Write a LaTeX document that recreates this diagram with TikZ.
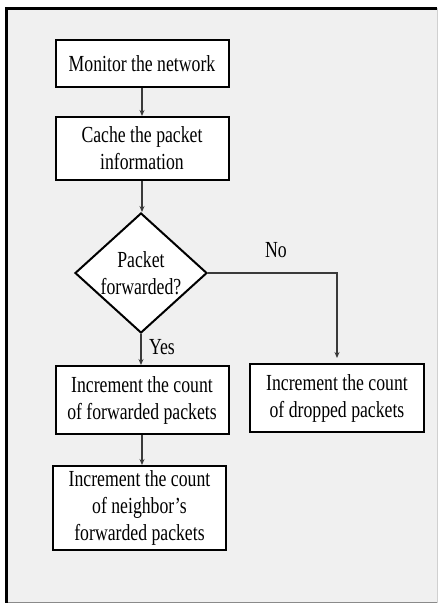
\documentclass[tikz,border=0pt]{standalone}
\usepackage{fontspec}
\setmainfont{Liberation Serif}[FakeStretch=0.77]
\usetikzlibrary{arrows.meta,positioning,shapes.geometric}
\definecolor{FlowPanel}{HTML}{F0F0F0}
\definecolor{FlowEdge}{HTML}{8A8A8A}
\definecolor{FlowFaint}{HTML}{D0D0D0}
\definecolor{FlowLine}{HTML}{3A3A3A}

\begin{document}
\begin{tikzpicture}[
    x=1pt, y=-1pt,
    stepbox/.style={
      draw=black,
      fill=white,
      line width=2pt,
      minimum width=173pt,
      minimum height=#1,
      inner sep=0pt,
      align=center,
      font=\fontsize{23}{27}\selectfont
    },
    decide/.style={
      draw=black,
      fill=white,
      line width=2pt,
      diamond,
      aspect=1.1,
      inner sep=0pt,
      minimum width=132pt,
      minimum height=120pt,
      align=center,
      font=\fontsize{23}{27}\selectfont
    },
    flow/.style={
      -{Stealth[length=6pt,width=5pt]},
      line width=1.1pt,
      color=FlowLine
    },
    tag/.style={font=\fontsize{23}{27}\selectfont}
  ]

  \useasboundingbox (0,0) rectangle (438,604);

  % Panel
  \fill[FlowPanel] (6.5,8.5) rectangle (437,602.5);
  \draw[FlowFaint,line width=0.8pt] (437,602.5) -- (437,8.5);
  \draw[FlowEdge,line width=1.2pt] (6.5,602.5) -- (437,602.5);
  \draw[black,line width=3pt] (6.5,602.5) -- (6.5,8.5) -- (437,8.5);

  % Steps
  \node[stepbox=47pt]  (mon)     at (142,63.5)  {Monitor the network};
  \node[stepbox=63pt]  (cache)   at (142,148.5) {Cache the packet\\information};
  \node[decide]        (fwd)     at (141,273)   {Packet\\forwarded?};
  \node[stepbox=68pt]  (incfwd)  at (142,400)   {Increment the count\\of forwarded packets};
  \node[stepbox=68pt,minimum width=174pt]
                       (incdrop) at (337,398)   {Increment the count\\of dropped packets};
  \node[stepbox=84pt]  (incnbr)  at (139.5,508) {Increment the count\\of neighbor’s\\forwarded packets};

  % Branch labels
  \node[tag] (no)  at (276,250) {No};
  \node[tag] (yes) at (162,347) {Yes};

  % Connectors
  \draw[flow] (mon) -- (cache);
  \draw[flow] (cache.south) -- (cache.south |- fwd.north);
  \draw[flow] (fwd.south) -- (fwd.south |- incfwd.north);
  \draw[flow] (fwd.east) -| ([yshift=5pt]incdrop.north);
  \draw[flow] (incfwd.south) -- (incfwd.south |- incnbr.north);

\end{tikzpicture}
\end{document}
